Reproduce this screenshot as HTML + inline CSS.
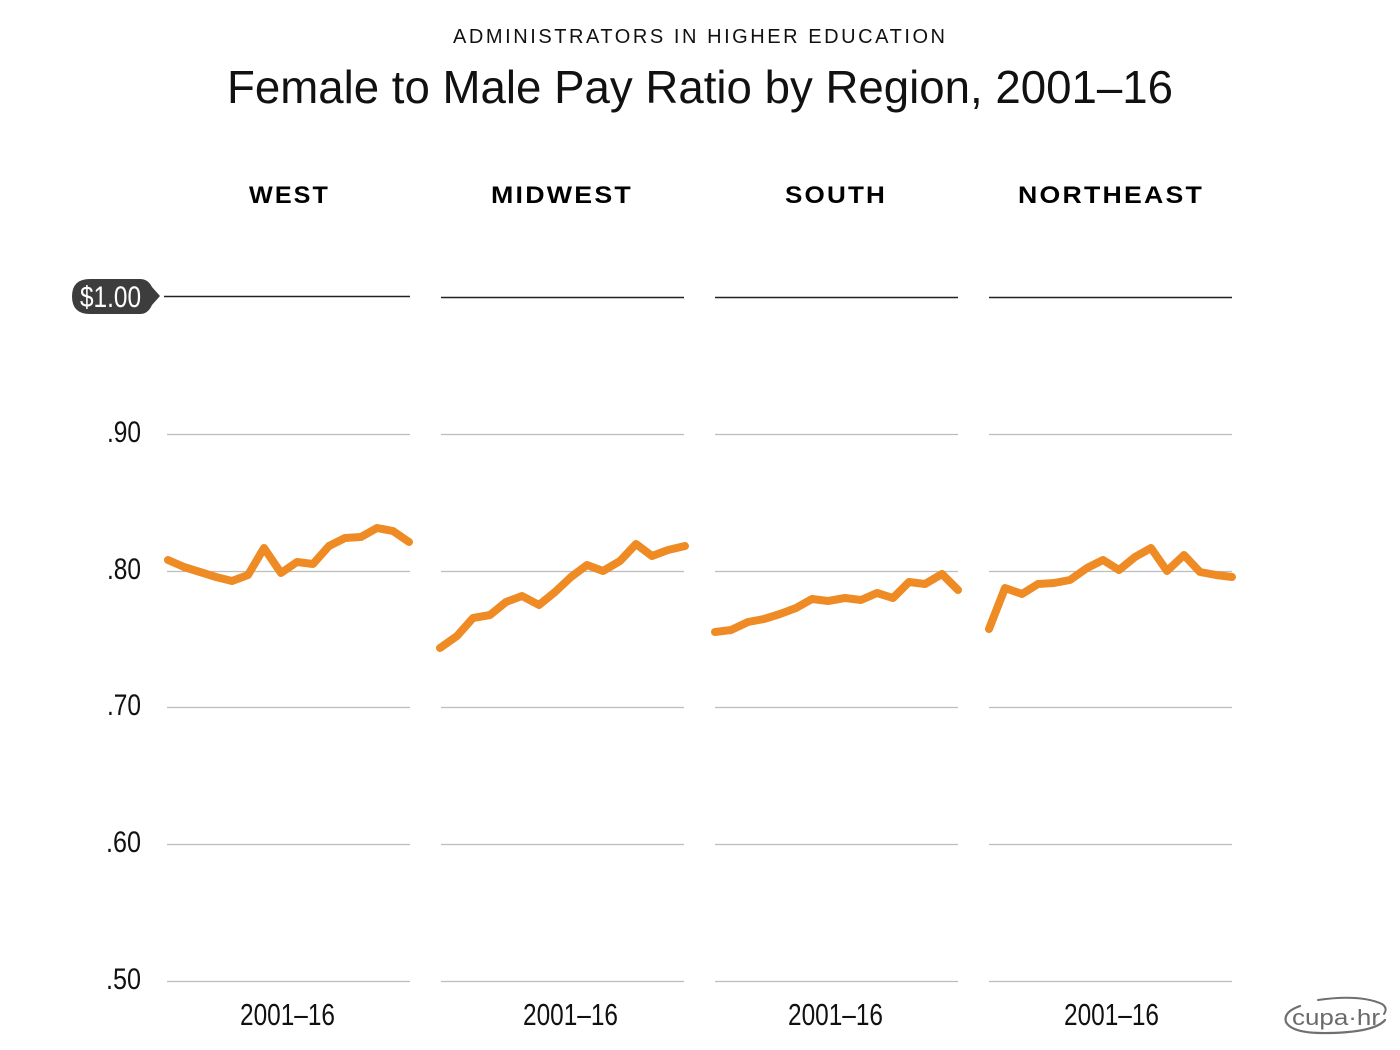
<!DOCTYPE html>
<html>
<head>
<meta charset="utf-8">
<style>
html,body{margin:0;padding:0;background:#fff;}
svg{display:block;}
text{font-family:"Liberation Sans",sans-serif;}
</style>
</head>
<body>
<svg width="1400" height="1050" viewBox="0 0 1400 1050" xmlns="http://www.w3.org/2000/svg">
  <rect width="1400" height="1050" fill="#fff"/>
  <!-- titles -->
  <text x="453" y="43" font-size="20" fill="#111" textLength="492" lengthAdjust="spacing">ADMINISTRATORS IN HIGHER EDUCATION</text>
  <text x="227" y="103" font-size="46" fill="#111" textLength="946" lengthAdjust="spacingAndGlyphs">Female to Male Pay Ratio by Region, 2001–16</text>

  <!-- region labels -->
  <g font-size="24" font-weight="bold" fill="#000">
    <text x="249" y="203" textLength="81" lengthAdjust="spacingAndGlyphs" letter-spacing="2">WEST</text>
    <text x="491" y="203" textLength="142" lengthAdjust="spacingAndGlyphs" letter-spacing="2">MIDWEST</text>
    <text x="785" y="203" textLength="102" lengthAdjust="spacingAndGlyphs" letter-spacing="2">SOUTH</text>
    <text x="1018" y="203" textLength="186" lengthAdjust="spacingAndGlyphs" letter-spacing="2">NORTHEAST</text>
  </g>

  <!-- gridlines -->
  <g stroke="#bdbdbd" stroke-width="1.2">
    <line x1="167" y1="434.5" x2="410" y2="434.5"/>
    <line x1="441" y1="434.5" x2="684" y2="434.5"/>
    <line x1="715" y1="434.5" x2="958" y2="434.5"/>
    <line x1="989" y1="434.5" x2="1232" y2="434.5"/>
    <line x1="167" y1="571.5" x2="410" y2="571.5"/>
    <line x1="441" y1="571.5" x2="684" y2="571.5"/>
    <line x1="715" y1="571.5" x2="958" y2="571.5"/>
    <line x1="989" y1="571.5" x2="1232" y2="571.5"/>
    <line x1="167" y1="707.5" x2="410" y2="707.5"/>
    <line x1="441" y1="707.5" x2="684" y2="707.5"/>
    <line x1="715" y1="707.5" x2="958" y2="707.5"/>
    <line x1="989" y1="707.5" x2="1232" y2="707.5"/>
    <line x1="167" y1="844.5" x2="410" y2="844.5"/>
    <line x1="441" y1="844.5" x2="684" y2="844.5"/>
    <line x1="715" y1="844.5" x2="958" y2="844.5"/>
    <line x1="989" y1="844.5" x2="1232" y2="844.5"/>
    <line x1="167" y1="981.5" x2="410" y2="981.5"/>
    <line x1="441" y1="981.5" x2="684" y2="981.5"/>
    <line x1="715" y1="981.5" x2="958" y2="981.5"/>
    <line x1="989" y1="981.5" x2="1232" y2="981.5"/>
  </g>
  <!-- $1.00 lines -->
  <g stroke="#222" stroke-width="1.6">
    <line x1="164" y1="296.5" x2="410" y2="296.5"/>
    <line x1="441" y1="297.5" x2="684" y2="297.5"/>
    <line x1="715" y1="297.5" x2="958" y2="297.5"/>
    <line x1="989" y1="297.5" x2="1232" y2="297.5"/>
  </g>
  <!-- $1.00 pill -->
  <path d="M90 279 L140 279 Q148 279 152 287 L160 296 L152 305 Q148 314 140 314 L90 314 Q72 314 72 296.5 Q72 279 90 279 Z" fill="#3d3d3d"/>
  <text x="80" y="307" font-size="30" fill="#fff" textLength="61" lengthAdjust="spacingAndGlyphs">$1.00</text>

  <!-- tick labels -->
  <g font-size="30" fill="#111" text-anchor="end">
    <text x="141" y="442" textLength="34" lengthAdjust="spacingAndGlyphs">.90</text>
    <text x="141" y="579" textLength="34" lengthAdjust="spacingAndGlyphs">.80</text>
    <text x="141" y="715" textLength="34" lengthAdjust="spacingAndGlyphs">.70</text>
    <text x="141" y="852" textLength="35" lengthAdjust="spacingAndGlyphs">.60</text>
    <text x="141" y="989" textLength="35" lengthAdjust="spacingAndGlyphs">.50</text>
  </g>

  <!-- x labels -->
  <g font-size="31" fill="#111">
    <text x="240" y="1025" textLength="95" lengthAdjust="spacingAndGlyphs">2001–16</text>
    <text x="523" y="1025" textLength="95" lengthAdjust="spacingAndGlyphs">2001–16</text>
    <text x="788" y="1025" textLength="95" lengthAdjust="spacingAndGlyphs">2001–16</text>
    <text x="1064" y="1025" textLength="95" lengthAdjust="spacingAndGlyphs">2001–16</text>
  </g>

  <!-- series -->
  <g fill="none" stroke="#EF8B24" stroke-width="8" stroke-linejoin="round" stroke-linecap="round">
    <polyline points="168,560 184,567 200,572 216,577 232,581 248,575 264,548 281,573 297,562 313,564 329,546 345,538 361,537 377,528 393,531 409,542"/>
    <polyline points="440,648 457,636 473,618 490,615 506,602 522,596 539,605 555,592 571,577 587,565 603,571 620,561 636,544 652,556 668,550 685,546"/>
    <polyline points="715,632 731,630 748,622 764,619 780,614 796,608 812,599 828,601 845,598 861,600 877,593 893,598 909,582 925,584 942,574 958,590"/>
    <polyline points="989,629 1005,588 1022,594 1038,584 1054,583 1070,580 1087,568 1103,560 1119,570 1135,557 1151,548 1167,571 1184,555 1200,572 1216,575 1232,577"/>
  </g>

  <!-- logo -->
  <g>
    <path d="M1300 1006 Q1283 1012 1286 1022 Q1292 1034 1330 1033 Q1375 1032 1385 1020" fill="none" stroke="#6f6f6f" stroke-width="2.2" stroke-linecap="round"/>
    <path d="M1318 1000 Q1360 994 1382 1004 Q1388 1008 1384 1014" fill="none" stroke="#6f6f6f" stroke-width="2" stroke-linecap="round"/>
    <text x="1292" y="1025" font-size="22" fill="#6a6a6a" textLength="88" lengthAdjust="spacingAndGlyphs">cupa·hr</text>
  </g>
</svg>
</body>
</html>
